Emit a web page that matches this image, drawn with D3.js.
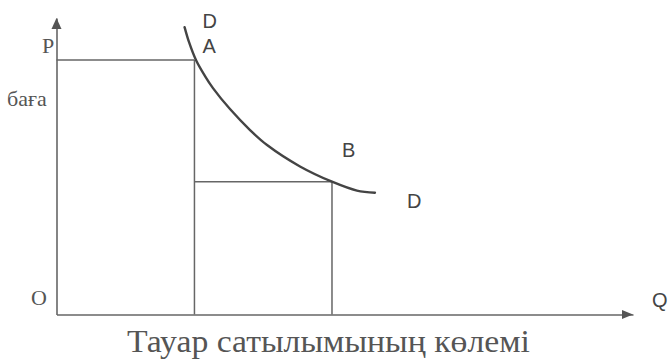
<!DOCTYPE html>
<html>
<head>
<meta charset="utf-8">
<script src="https://cdn.jsdelivr.net/npm/d3@7.9.0/dist/d3.min.js"></script>
<style>
  body { margin: 0; background: #fff; }
  .sans { font-family: "Liberation Sans", Arial, sans-serif; fill: #444; }
  .serif { font-family: "Liberation Serif", "Times New Roman", serif; fill: #555; }
</style>
</head>
<body>
<svg id="chart" width="670" height="363"></svg>
<script>
// demand curve D (quantity, price)
const demandQ = [9.33, 9.65, 10.16, 10.82, 11.4, 12.64, 14.1, 15.34, 17.74, 20.07, 21.89, 23.2];
const demandP = [13.57, 12.87, 12.02, 11.26, 10.69, 9.7, 8.71, 8.0, 6.99, 6.27, 5.85, 5.75];

// marked points A and B
const pointLabels = ['A', 'B'];
const pointQ = [10.05, 20.07];
const pointP = [12.02, 6.27];

const axisLabelX = 'Q';
const axisLabelY = 'P';
const priceLabel = 'баға';
const originLabel = 'O';
const curveLabel = 'D';
const caption = 'Тауар сатылымының көлемі';

const svg = d3.select('#chart');
const x = d3.scaleLinear().domain([0, 42]).range([56.5, 633]);
const y = d3.scaleLinear().domain([0, 14]).range([314.5, 18]);

const lineColor = '#666';

// axes (no ticks), with arrow heads
svg.append('g')
  .attr('transform', `translate(0,${y(0)})`)
  .call(d3.axisBottom(x).tickValues([]).tickSizeOuter(0))
  .call(g => g.select('.domain').attr('stroke', lineColor).attr('stroke-width', 1.6));
svg.append('g')
  .attr('transform', `translate(${x(0)},0)`)
  .call(d3.axisLeft(y).tickValues([]).tickSizeOuter(0))
  .call(g => g.select('.domain').attr('stroke', lineColor).attr('stroke-width', 1.6));

svg.append('path')
  .attr('d', `M${x(0)},${y(14)} L${x(0) - 5},${y(14) + 11} L${x(0) + 5},${y(14) + 11} Z`)
  .attr('fill', '#555');
svg.append('path')
  .attr('d', `M${x(42)},${y(0)} L${x(42) - 11},${y(0) - 4.5} L${x(42) - 11},${y(0) + 4.5} Z`)
  .attr('fill', '#555');

// guide lines from A and B to the axes
pointQ.forEach((q, i) => {
  const p = pointP[i];
  const prevQ = i === 0 ? 0 : pointQ[i - 1];
  svg.append('line')
    .attr('x1', x(prevQ)).attr('x2', x(q))
    .attr('y1', y(p)).attr('y2', y(p))
    .attr('stroke', lineColor).attr('stroke-width', 1.5);
  svg.append('line')
    .attr('x1', x(q)).attr('x2', x(q))
    .attr('y1', y(p)).attr('y2', y(0))
    .attr('stroke', lineColor).attr('stroke-width', 1.5);
});

// demand curve
const line = d3.line()
  .x(d => x(d[0]))
  .y(d => y(d[1]))
  .curve(d3.curveCatmullRom.alpha(0.5));
svg.append('path')
  .datum(demandQ.map((q, i) => [q, demandP[i]]))
  .attr('d', line)
  .attr('fill', 'none')
  .attr('stroke', '#444')
  .attr('stroke-width', 2.4)
  .attr('stroke-linecap', 'round');

// labels
const sansSize = 20;
svg.append('text').attr('class', 'sans').attr('font-size', sansSize)
  .attr('x', x(demandQ[0]) + 18).attr('y', y(demandP[0]) + 1).text(curveLabel);
svg.append('text').attr('class', 'sans').attr('font-size', sansSize)
  .attr('x', x(demandQ[demandQ.length - 1]) + 32).attr('y', y(demandP[demandP.length - 1]) + 15).text(curveLabel);
svg.append('text').attr('class', 'sans').attr('font-size', sansSize)
  .attr('x', x(pointQ[0]) + 8).attr('y', y(pointP[0]) - 7).text(pointLabels[0]);
svg.append('text').attr('class', 'sans').attr('font-size', sansSize)
  .attr('x', x(pointQ[1]) + 10).attr('y', y(pointP[1]) - 25).text(pointLabels[1]);
svg.append('text').attr('class', 'sans').attr('font-size', sansSize)
  .attr('x', 652).attr('y', 307).text(axisLabelX);

svg.append('text').attr('class', 'serif').attr('font-size', 22)
  .attr('x', 42).attr('y', 53).text(axisLabelY);
svg.append('text').attr('class', 'serif').attr('font-size', 22)
  .attr('x', 7).attr('y', 106).text(priceLabel);
svg.append('text').attr('class', 'serif').attr('font-size', 22)
  .attr('x', 31).attr('y', 305).text(originLabel);
svg.append('text').attr('class', 'serif').attr('font-size', 31)
  .attr('x', 127).attr('y', 352)
  .attr('textLength', 403).attr('lengthAdjust', 'spacingAndGlyphs')
  .text(caption);
</script>
</body>
</html>
